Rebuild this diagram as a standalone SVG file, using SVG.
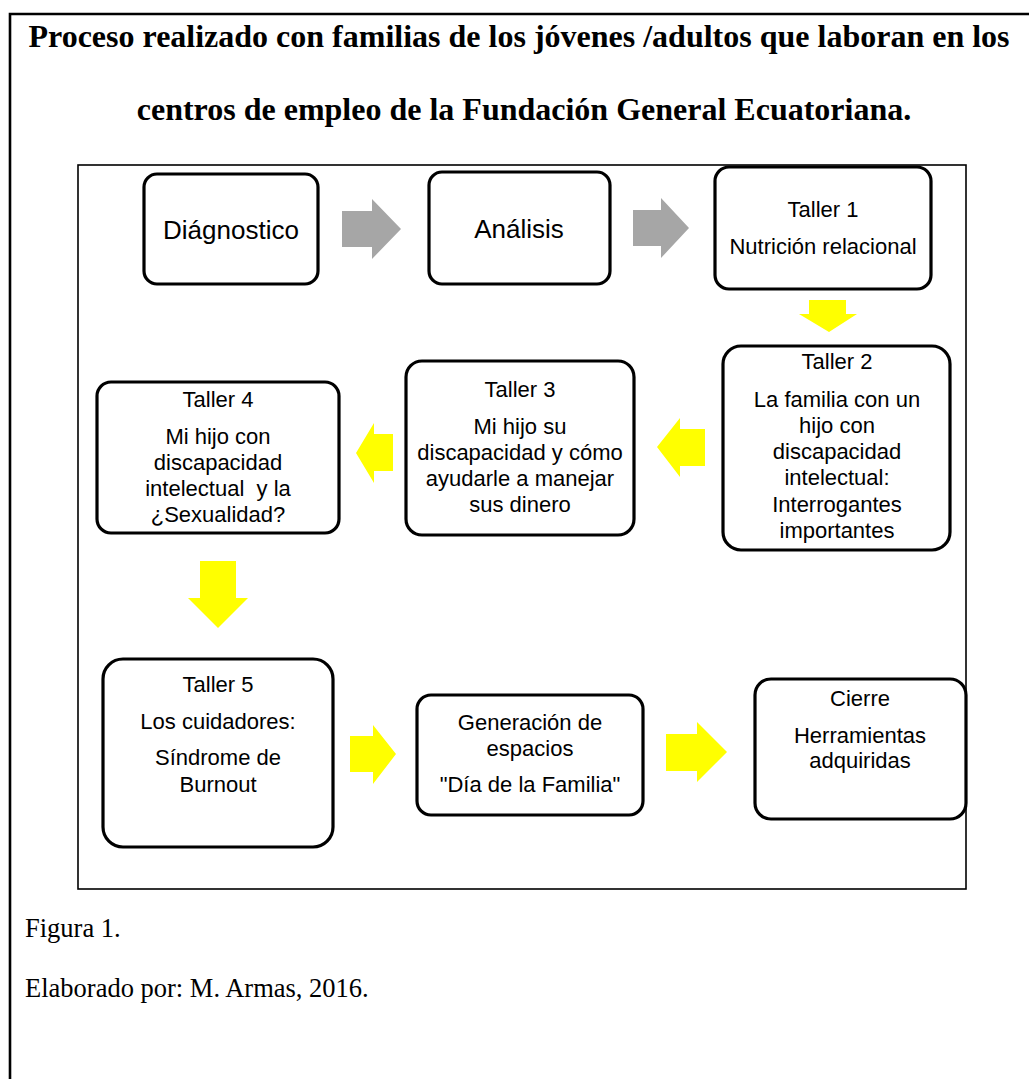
<svg xmlns="http://www.w3.org/2000/svg" width="1029" height="1079" viewBox="0 0 1029 1079">
<style>
.node rect{fill:#fff;stroke:#000;stroke-width:3.2}
.t{font-family:"Liberation Sans",Arial,sans-serif;font-size:22px;fill:#000;text-anchor:middle}
.big{font-size:26px}
.title{font-family:"Liberation Serif","Times New Roman",serif;font-size:32px;font-weight:bold;fill:#000;text-anchor:middle}
.cap{font-family:"Liberation Serif","Times New Roman",serif;font-size:26.5px;fill:#000}
.gray{fill:#a6a6a6}
.yel{fill:#ffff00}
</style>
<rect width="1029" height="1079" fill="#fff"/>
<path d="M10,1079 V14 H1029" fill="none" stroke="#000" stroke-width="2.6"/>
<text class="title" x="519" y="47">Proceso realizado con familias de los jóvenes /adultos que laboran en los</text>
<text class="title" x="524" y="120">centros de empleo de la Fundación General Ecuatoriana.</text>
<rect x="78" y="165" width="888" height="724" fill="none" stroke="#000" stroke-width="1.6"/>

<g id="connectors">
<polygon class="gray" points="342,211 372,211 372,199 401,229 372,259 372,247 342,247"/>
<polygon class="gray" points="633,210 661,210 661,198 689,228 661,258 661,246 633,246"/>
<polygon class="yel" points="809,300 846,300 846,314 857,314 829,332 799,314 809,314"/>
<polygon class="yel" points="705,429 680,429 680,418 657,447 680,477 680,466 705,466"/>
<polygon class="yel" points="393,434 374,434 374,423 356,453 374,483 374,471 393,471"/>
<polygon class="yel" points="200,561 236,561 236,598 248,598 218,628 188,598 200,598"/>
<polygon class="yel" points="350,736 373,736 373,725 396,754 373,784 373,772 350,772"/>
<polygon class="yel" points="666,734 697,734 697,722 727,752 697,782 697,771 666,771"/>
</g>

<g id="diagnostico" class="node">
<rect x="144" y="174" width="174" height="110" rx="13"/>
<text class="t big" x="231" y="239">Diágnostico</text>
</g>
<g id="analisis" class="node">
<rect x="429" y="172" width="181" height="112" rx="13"/>
<text class="t big" x="519" y="238">Análisis</text>
</g>
<g id="taller1" class="node">
<rect x="715" y="167" width="216" height="122" rx="14"/>
<text class="t" x="823" y="217">Taller 1</text>
<text class="t" x="823" y="254">Nutrición relacional</text>
</g>
<g id="taller2" class="node">
<rect x="723" y="346" width="227" height="204" rx="18"/>
<text class="t" x="837" y="369">Taller 2</text>
<text class="t" x="837" y="407">La familia con un</text>
<text class="t" x="837" y="433">hijo con</text>
<text class="t" x="837" y="459">discapacidad</text>
<text class="t" x="837" y="485">intelectual:</text>
<text class="t" x="837" y="512">Interrogantes</text>
<text class="t" x="837" y="538">importantes</text>
</g>
<g id="taller3" class="node">
<rect x="406" y="361" width="228" height="174" rx="16"/>
<text class="t" x="520" y="397">Taller 3</text>
<text class="t" x="520" y="434">Mi hijo su</text>
<text class="t" x="520" y="460">discapacidad y cómo</text>
<text class="t" x="520" y="486">ayudarle a manejar</text>
<text class="t" x="520" y="512">sus dinero</text>
</g>
<g id="taller4" class="node">
<rect x="97" y="382" width="242" height="151" rx="14"/>
<text class="t" x="218" y="407">Taller 4</text>
<text class="t" x="218" y="444">Mi hijo con</text>
<text class="t" x="218" y="470">discapacidad</text>
<text class="t" x="218" y="496" xml:space="preserve">intelectual  y la</text>
<text class="t" x="218" y="522">¿Sexualidad?</text>
</g>
<g id="taller5" class="node">
<rect x="103" y="659" width="230" height="188" rx="20"/>
<text class="t" x="218" y="692">Taller 5</text>
<text class="t" x="218" y="729">Los cuidadores:</text>
<text class="t" x="218" y="765">Síndrome de</text>
<text class="t" x="218" y="792">Burnout</text>
</g>
<g id="generacion" class="node">
<rect x="417" y="695" width="226" height="120" rx="14"/>
<text class="t" x="530" y="730">Generación de</text>
<text class="t" x="530" y="756">espacios</text>
<text class="t" x="530" y="792">"Día de la Familia"</text>
</g>
<g id="cierre" class="node">
<rect x="755" y="679" width="211" height="140" rx="16"/>
<text class="t" x="860" y="706">Cierre</text>
<text class="t" x="860" y="743">Herramientas</text>
<text class="t" x="860" y="768">adquiridas</text>
</g>

<text class="cap" x="25" y="937">Figura 1.</text>
<text class="cap" x="25" y="997">Elaborado por: M. Armas, 2016.</text>
</svg>
